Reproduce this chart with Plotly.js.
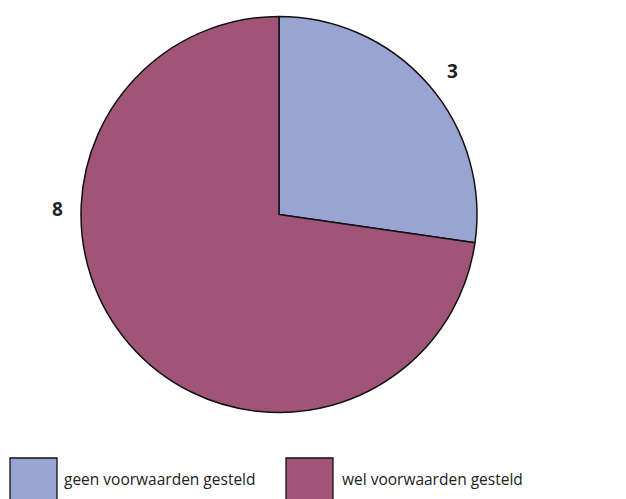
<!DOCTYPE html>
<html>
<head>
<meta charset="utf-8">
<script src="https://cdn.plot.ly/plotly-3.0.1.min.js"></script>
<style>html,body{margin:0;padding:0;background:#fff;}</style>
</head>
<body>
<div id="chart" style="width:626px;height:499px;"></div>
<script>
var labels = ["geen voorwaarden gesteld", "wel voorwaarden gesteld"];
var values = [3, 8];
var colors = ["#99A4D2", "#A05578"];

var W = 626, H = 499;
var M = {l: 81, r: 149, t: 16, b: 86};
function px(X) { return (X - M.l) / (W - M.l - M.r); }
function py(Y) { return ((H - M.b) - Y) / (H - M.t - M.b); }

var font = "'Open Sans', Lato, 'Noto Sans', sans-serif";

var labelPos = [[452, 71], [57, 209]];
var boxPos = [[10, 57], [286, 333]];
var textX = [62, 340];

var annotations = [];
var shapes = [];
values.forEach(function (v, i) {
  annotations.push({
    xref: "paper", yref: "paper",
    x: px(labelPos[i][0]), y: py(labelPos[i][1]),
    text: "<b>" + v + "</b>", showarrow: false,
    xanchor: "center", yanchor: "middle",
    font: {family: font, size: 19, color: "#222"}
  });
  shapes.push({
    type: "rect", xref: "paper", yref: "paper",
    x0: px(boxPos[i][0]), x1: px(boxPos[i][1]),
    y0: py(458), y1: py(502),
    fillcolor: colors[i], line: {color: "#111", width: 1.3}
  });
  annotations.push({
    xref: "paper", yref: "paper",
    x: px(textX[i]), y: py(479),
    text: labels[i], showarrow: false,
    xanchor: "left", yanchor: "middle",
    font: {family: font, size: 15.5, color: "#222"}
  });
});

var trace = {
  type: "pie",
  labels: labels,
  values: values,
  sort: false,
  direction: "clockwise",
  rotation: 0,
  textinfo: "none",
  hoverinfo: "label+value",
  marker: {colors: colors, line: {color: "#111", width: 1.5}},
  showlegend: false
};

var layout = {
  width: W, height: H,
  margin: M,
  paper_bgcolor: "#fff",
  plot_bgcolor: "#fff",
  showlegend: false,
  annotations: annotations,
  shapes: shapes
};

Plotly.newPlot("chart", [trace], layout, {displayModeBar: false, staticPlot: true});
</script>
</body>
</html>
